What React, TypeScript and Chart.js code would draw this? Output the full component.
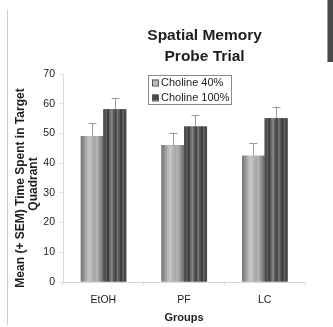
import React, { useEffect, useRef } from "react";
import { Chart, registerables } from "chart.js";

Chart.register(...registerables);

const categories = ["EtOH", "PF", "LC"];
const seriesLabels = ["Choline 40%", "Choline 100%"];
const choline40 = [49.1, 46.1, 42.5];
const choline100 = [58.1, 52.3, 55.1];
const sem40 = [4.3, 4.2, 4.2];
const sem100 = [3.7, 3.9, 3.9];
const yTicks = [0, 10, 20, 30, 40, 50, 60, 70];
const titleLines = ["Spatial Memory", "Probe Trial"];
const yTitleLines = ["Mean (+ SEM) Time Spent in Target", "Quadrant"];
const xTitle = "Groups";

const FONT = 'Arial, "Liberation Sans", sans-serif';

const lightStripes = ["#7c7c7c", "#8e8e8e", "#a4a4a4", "#b8b8b8", "#c6c6c6", "#bdbdbd", "#b0b0b0", "#a6a6a6", "#b4b4b4", "#a0a0a0", "#8c8c8c", "#747474"];
const darkStripes = ["#4c4c4c", "#5e5e5e", "#3c3c3c", "#6a6a6a", "#858585", "#5c5c5c", "#434343", "#737373", "#565656", "#3a3a3a", "#626262", "#484848"];

const sems = [sem40, sem100];
const stripeSets = [lightStripes, darkStripes];

const decorPlugin = {
  id: "decor",
  afterDatasetsDraw(chart: any) {
    const ctx = chart.ctx as CanvasRenderingContext2D;
    chart.data.datasets.forEach((ds: any, di: number) => {
      const meta = chart.getDatasetMeta(di);
      const stripes = stripeSets[di];
      meta.data.forEach((bar: any) => {
        const left = bar.x - bar.width / 2;
        const top = Math.min(bar.y, bar.base);
        const h = Math.abs(bar.base - bar.y);
        const sw = bar.width / stripes.length;
        stripes.forEach((c, k) => {
          ctx.fillStyle = c;
          ctx.fillRect(left + k * sw, top, sw + 0.5, h);
        });
      });
    });
    const yScale = chart.scales.y;
    ctx.save();
    ctx.strokeStyle = "#9a9a9a";
    ctx.lineWidth = 1;
    chart.data.datasets.forEach((ds: any, di: number) => {
      const meta = chart.getDatasetMeta(di);
      meta.data.forEach((bar: any, i: number) => {
        const v = ds.data[i];
        const yTop = yScale.getPixelForValue(v + sems[di][i]);
        const x = Math.round(bar.x) + 0.5;
        ctx.beginPath();
        ctx.moveTo(x, bar.y);
        ctx.lineTo(x, yTop);
        ctx.moveTo(x - 4, Math.round(yTop) + 0.5);
        ctx.lineTo(x + 4, Math.round(yTop) + 0.5);
        ctx.stroke();
      });
    });
    ctx.restore();
  },
  afterDraw(chart: any) {
    const ctx = chart.ctx as CanvasRenderingContext2D;
    const area = chart.chartArea;
    ctx.save();
    ctx.strokeStyle = "#cfcfcf";
    ctx.lineWidth = 1;
    ctx.beginPath();
    ctx.moveTo(7.5, 10);
    ctx.lineTo(7.5, 325);
    ctx.stroke();
    ctx.fillStyle = "#4a4a4a";
    ctx.fillRect(327, 0, 6, 62);
    ctx.fillStyle = "#9a9a9a";
    ctx.fillRect(327, 0, 1, 62);

    ctx.fillStyle = "#1e1e1e";
    ctx.font = `bold 15.5px ${FONT}`;
    ctx.textAlign = "center";
    ctx.textBaseline = "middle";
    const tx = area.left + area.width * 0.585;
    ctx.fillText(titleLines[0], tx, 36);
    ctx.fillText(titleLines[1], tx, 57);

    ctx.font = `bold 12px ${FONT}`;
    ctx.save();
    ctx.translate(21, 188);
    ctx.rotate(-Math.PI / 2);
    ctx.fillText(yTitleLines[0], 0, 0);
    ctx.restore();
    ctx.save();
    ctx.translate(34, 184);
    ctx.rotate(-Math.PI / 2);
    ctx.fillText(yTitleLines[1], 0, 0);
    ctx.restore();

    const lx = 148, ly = 75, lw = 83, lh = 29;
    ctx.fillStyle = "#ffffff";
    ctx.fillRect(lx, ly, lw, lh);
    ctx.strokeStyle = "#8a8a8a";
    ctx.strokeRect(lx + 0.5, ly + 0.5, lw, lh);
    ctx.font = `11px ${FONT}`;
    ctx.textAlign = "left";
    const swatchFills = ["#bdbdbd", "#4a4a4a"];
    chart.data.datasets.forEach((ds: any, di: number) => {
      const cy = ly + 7.5 + di * 15;
      ctx.fillStyle = swatchFills[di];
      ctx.fillRect(lx + 4, cy - 3, 6, 6);
      ctx.strokeStyle = "#555";
      ctx.strokeRect(lx + 4.5, cy - 2.5, 6, 6);
      ctx.fillStyle = "#1e1e1e";
      ctx.fillText(ds.label, lx + 13, cy + 0.5);
    });
    ctx.restore();
  },
};

export default function App() {
  const ref = useRef<HTMLCanvasElement | null>(null);
  useEffect(() => {
    if (!ref.current) return;
    const chart = new Chart(ref.current, {
      type: "bar",
      data: {
        labels: categories,
        datasets: [
          { label: seriesLabels[0], data: choline40, backgroundColor: "#a8a8a8", borderWidth: 0, categoryPercentage: 0.56, barPercentage: 1.0 },
          { label: seriesLabels[1], data: choline100, backgroundColor: "#555555", borderWidth: 0, categoryPercentage: 0.56, barPercentage: 1.0 },
        ],
      },
      options: {
        responsive: false,
        animation: false,
        devicePixelRatio: 1,
        layout: { padding: { left: 0, right: 28, top: 74, bottom: 0 } },
        plugins: { legend: { display: false }, title: { display: false }, tooltip: { enabled: false } },
        scales: {
          x: {
            grid: { drawOnChartArea: false, drawTicks: true, tickLength: 4, color: "#e0e0e0" },
            border: { display: true, color: "#d8d8d8" },
            ticks: { color: "#222", font: { family: FONT, size: 10.5 }, padding: 8 },
            title: { display: true, text: xTitle, color: "#222", font: { family: FONT, size: 11, weight: "bold" }, padding: { top: 0, bottom: 2 } },
            afterFit: (s: any) => { s.height = 45; },
          },
          y: {
            min: 0,
            max: 70,
            afterBuildTicks: (s: any) => { s.ticks = yTicks.map((v) => ({ value: v })); },
            grid: { drawOnChartArea: false, drawTicks: true, tickLength: 4, color: "#e0e0e0" },
            border: { display: true, color: "#d8d8d8" },
            ticks: { color: "#222", font: { family: FONT, size: 10.5 }, padding: 4 },
            afterFit: (s: any) => { s.width = 63; },
          },
        },
      },
      plugins: [decorPlugin],
    });
    return () => chart.destroy();
  }, []);
  return (
    <div style={{ position: "fixed", left: 0, top: 0, width: 333, height: 327, background: "#fff" }}>
      <canvas ref={ref} width={333} height={327} style={{ width: 333, height: 327, display: "block" }} />
    </div>
  );
}
